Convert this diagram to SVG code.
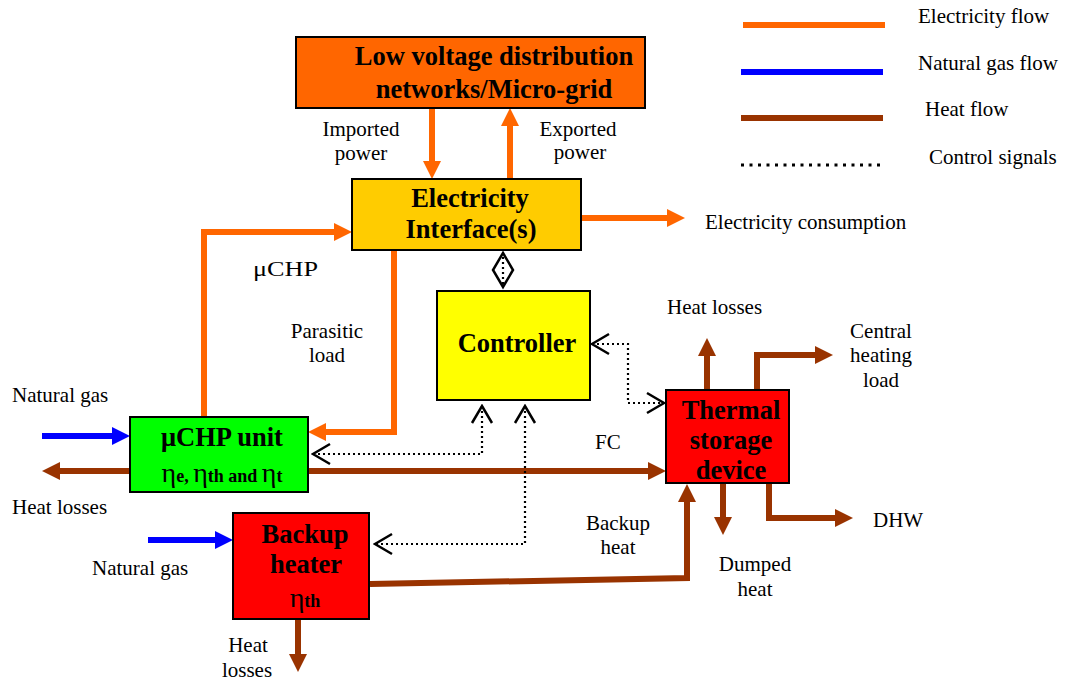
<svg xmlns="http://www.w3.org/2000/svg" width="1071" height="682" viewBox="0 0 1071 682">
<style>
  text{font-family:'Liberation Serif','Times New Roman',Times,serif;fill:#000}
  .lbl{font-size:21px}
  .mid{text-anchor:middle}
  .bt{font-size:26.5px;font-weight:bold;text-anchor:middle}
  .box{stroke:#000;stroke-width:2}
  .el{fill:none;stroke:#FF6600;stroke-width:6}
  .ht{fill:none;stroke:#993300;stroke-width:6}
  .gs{fill:none;stroke:#0000FF;stroke-width:6}
  .ct{fill:none;stroke:#000;stroke-width:2.2;stroke-dasharray:2 3}
</style>
<defs>
  <marker id="ao" markerUnits="userSpaceOnUse" viewBox="0 0 18 18" markerWidth="18" markerHeight="18" refX="0" refY="9" orient="auto"><path d="M0,0 L18,9 L0,18 z" fill="#FF6600"/></marker>
  <marker id="ab" markerUnits="userSpaceOnUse" viewBox="0 0 18 18" markerWidth="18" markerHeight="18" refX="0" refY="9" orient="auto"><path d="M0,0 L18,9 L0,18 z" fill="#993300"/></marker>
  <marker id="ag" markerUnits="userSpaceOnUse" viewBox="0 0 18 18" markerWidth="18" markerHeight="18" refX="0" refY="9" orient="auto"><path d="M0,0 L18,9 L0,18 z" fill="#0000FF"/></marker>
  <marker id="cv" markerUnits="userSpaceOnUse" viewBox="-20 -12 22 24" markerWidth="22" markerHeight="24" refX="0" refY="0" orient="auto-start-reverse"><path d="M-17,-10 L0,0 L-17,10" fill="none" stroke="#000" stroke-width="2.5"/></marker>
</defs>

<g id="legend">
  <line x1="743" y1="25" x2="885" y2="25" stroke="#FF6600" stroke-width="6"/>
  <line x1="741" y1="72" x2="883" y2="72" stroke="#0000FF" stroke-width="6"/>
  <line x1="741" y1="118" x2="883" y2="118" stroke="#993300" stroke-width="6"/>
  <line x1="741" y1="165" x2="885" y2="165" stroke="#000" stroke-width="3" stroke-dasharray="3 5.5"/>
  <text class="lbl" x="918" y="23">Electricity flow</text>
  <text class="lbl" x="918" y="70">Natural gas flow</text>
  <text class="lbl" x="925" y="116">Heat flow</text>
  <text class="lbl" x="929" y="164">Control signals</text>
</g>

<g id="connectors">
  <path class="el" d="M432,108 V161" marker-end="url(#ao)"/>
  <path class="el" d="M510,179 V126" marker-end="url(#ao)"/>
  <path class="el" d="M581,218 H667" marker-end="url(#ao)"/>
  <path class="el" d="M204,417 V232 H334" marker-end="url(#ao)"/>
  <path class="el" d="M394,250 V432 H326" marker-end="url(#ao)"/>

  <path class="ht" d="M308,471 H648" marker-end="url(#ab)"/>
  <path class="ht" d="M130,471 H60" marker-end="url(#ab)"/>
  <path class="ht" d="M370,584 L687,578 V502" marker-end="url(#ab)"/>
  <path class="ht" d="M298,620 V654" marker-end="url(#ab)"/>
  <path class="ht" d="M707,389 V356" marker-end="url(#ab)"/>
  <path class="ht" d="M757,389 V355 H815" marker-end="url(#ab)"/>
  <path class="ht" d="M723,484 V517" marker-end="url(#ab)"/>
  <path class="ht" d="M769,484 V518 H835" marker-end="url(#ab)"/>

  <path class="gs" d="M42,436 H112" marker-end="url(#ag)"/>
  <path class="gs" d="M148,540 H215" marker-end="url(#ag)"/>

  <path class="ct" d="M482,406 V454 H313" marker-start="url(#cv)" marker-end="url(#cv)"/>
  <path class="ct" d="M525,406 V544 H375" marker-start="url(#cv)" marker-end="url(#cv)"/>
  <path class="ct" d="M592,344 H628 V403 H664" marker-start="url(#cv)" marker-end="url(#cv)"/>

  <polygon points="503,253 513,270 503,287 493,270" fill="#fff" stroke="#000" stroke-width="2.5"/>
  <line class="ct" x1="503" y1="257" x2="503" y2="285"/>
</g>

<g id="labels">
  <text class="lbl mid" x="361" y="136">Imported</text>
  <text class="lbl mid" x="361" y="160">power</text>
  <text class="lbl mid" x="578" y="136">Exported</text>
  <text class="lbl mid" x="580" y="159">power</text>
  <text class="lbl" x="705" y="229">Electricity consumption</text>
  <text class="lbl" x="253" y="276" font-size="26" textLength="65" lengthAdjust="spacingAndGlyphs">μCHP</text>
  <text class="lbl mid" x="327" y="338">Parasitic</text>
  <text class="lbl mid" x="327" y="362">load</text>
  <text class="lbl" x="12" y="402">Natural gas</text>
  <text class="lbl" x="12" y="514">Heat losses</text>
  <text class="lbl" x="92" y="575">Natural gas</text>
  <text class="lbl mid" x="248" y="652">Heat</text>
  <text class="lbl mid" x="247" y="677">losses</text>
  <text class="lbl" x="667" y="314">Heat losses</text>
  <text class="lbl mid" x="881" y="338">Central</text>
  <text class="lbl mid" x="881" y="362">heating</text>
  <text class="lbl mid" x="881" y="387">load</text>
  <text class="lbl" x="595" y="449">FC</text>
  <text class="lbl mid" x="618" y="530">Backup</text>
  <text class="lbl mid" x="618" y="554">heat</text>
  <text class="lbl mid" x="755" y="571">Dumped</text>
  <text class="lbl mid" x="755" y="596">heat</text>
  <text class="lbl" x="873" y="527">DHW</text>
</g>

<g id="grid">
  <rect class="box" x="296" y="37" width="349" height="71" fill="#FF6600"/>
  <text class="bt" x="494" y="65">Low voltage distribution</text>
  <text class="bt" x="494" y="98">networks/Micro-grid</text>
</g>

<g id="interface">
  <rect class="box" x="352" y="179" width="229" height="71" fill="#FFCC00"/>
  <text class="bt" x="470" y="207">Electricity</text>
  <text class="bt" x="471" y="238">Interface(s)</text>
</g>

<g id="controller">
  <rect class="box" x="437" y="291" width="153" height="109" fill="#FFFF00"/>
  <text class="bt" x="517" y="352">Controller</text>
</g>

<g id="uchp">
  <rect class="box" x="130" y="417" width="178" height="75" fill="#00FF00"/>
  <text class="bt" x="222" y="446">μCHP unit</text>
  <text class="bt" x="222" y="482"><tspan font-size="28" font-weight="normal">η</tspan><tspan font-size="18">e, </tspan><tspan font-size="28" font-weight="normal">η</tspan><tspan font-size="18">th and </tspan><tspan font-size="28" font-weight="normal">η</tspan><tspan font-size="18">t</tspan></text>
</g>

<g id="backup">
  <rect class="box" x="233" y="513" width="136" height="106" fill="#FF0000"/>
  <text class="bt" x="305" y="543">Backup</text>
  <text class="bt" x="306" y="573">heater</text>
  <text class="bt" x="305" y="607"><tspan font-size="28" font-weight="normal">η</tspan><tspan font-size="18">th</tspan></text>
</g>

<g id="storage">
  <rect class="box" x="666" y="390" width="123" height="93" fill="#FF0000"/>
  <text class="bt" x="731" y="419">Thermal</text>
  <text class="bt" x="731" y="449">storage</text>
  <text class="bt" x="731" y="479">device</text>
</g>
</svg>
